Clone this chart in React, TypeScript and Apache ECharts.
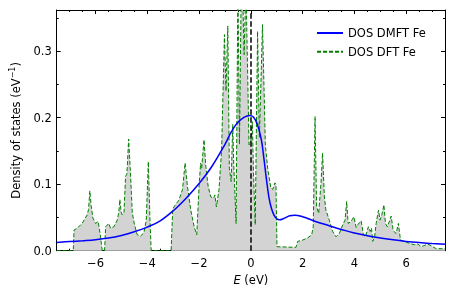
import React, { useEffect, useRef } from 'react';
import * as echarts from 'echarts';

// DMFT density of states (energy in eV, DOS in 1/eV)
const dmftCurve: number[][] = [
  [-7.5, 0.0125], [-7.0, 0.0138], [-6.5, 0.015], [-6.0, 0.0165], [-5.5, 0.019],
  [-5.0, 0.023], [-4.5, 0.0285], [-4.0, 0.0355], [-3.5, 0.045], [-3.0, 0.06],
  [-2.5, 0.079], [-2.0, 0.101], [-1.5, 0.127], [-1.0, 0.16], [-0.75, 0.179],
  [-0.5, 0.193], [-0.25, 0.201], [-0.05, 0.2035], [0.1, 0.201], [0.25, 0.19],
  [0.4, 0.168], [0.5, 0.14], [0.6, 0.108], [0.7, 0.08], [0.8, 0.063],
  [0.9, 0.053], [1.0, 0.048], [1.1, 0.0465], [1.25, 0.048], [1.5, 0.0525],
  [1.7, 0.0535], [2.0, 0.051], [2.5, 0.044], [3.0, 0.038], [3.5, 0.032],
  [4.0, 0.0265], [4.5, 0.0225], [5.0, 0.0192], [5.5, 0.0163], [6.0, 0.014],
  [6.5, 0.0122], [7.0, 0.0108], [7.5, 0.0096],
];

// DFT density of states
const dftCurve: number[][] = [
  [-7.5, 0], [-6.86, 0], [-6.83, 0.031], [-6.7, 0.034], [-6.52, 0.041], [-6.32, 0.054],
  [-6.27, 0.062], [-6.22, 0.09], [-6.17, 0.068], [-6.1, 0.049], [-6.0, 0.041], [-5.9, 0.044],
  [-5.82, 0.025], [-5.74, 0], [-5.65, 0], [-5.61, 0.036], [-5.49, 0.041], [-5.42, 0.034],
  [-5.29, 0.036], [-5.16, 0.046], [-5.1, 0.058], [-5.06, 0.077], [-5.01, 0.058], [-4.97, 0.054],
  [-4.9, 0.058], [-4.84, 0.112], [-4.79, 0.115], [-4.75, 0.145], [-4.72, 0.168], [-4.69, 0.145],
  [-4.66, 0.125], [-4.58, 0.057], [-4.5, 0.04], [-4.39, 0.024], [-4.26, 0.022], [-4.13, 0.027],
  [-4.04, 0.046], [-3.96, 0.134], [-3.9, 0.05], [-3.85, 0], [-3.08, 0], [-3.02, 0.061],
  [-2.97, 0.066], [-2.78, 0.076], [-2.64, 0.092], [-2.54, 0.132], [-2.45, 0.097], [-2.32, 0.061],
  [-2.19, 0.036], [-2.09, 0.024], [-2.0, 0.097], [-1.94, 0.132], [-1.9, 0.124], [-1.81, 0.167],
  [-1.74, 0.127], [-1.65, 0.097], [-1.55, 0.081], [-1.44, 0.079], [-1.39, 0.084], [-1.33, 0.066],
  [-1.23, 0.092], [-1.13, 0.152], [-1.02, 0.325], [-0.96, 0.24], [-0.89, 0.338], [-0.83, 0.124],
  [-0.76, 0.104], [-0.7, 0.19], [-0.66, 0.129], [-0.57, 0.041], [-0.5, 0.4], [-0.44, 0.16],
  [-0.37, 0.4], [-0.3, 0.36], [-0.26, 0.295], [-0.19, 0.4], [-0.12, 0.26], [-0.07, 0.159],
  [0.0, 0.165], [0.06, 0.194], [0.1, 0.12], [0.17, 0.039], [0.26, 0.33], [0.33, 0.17],
  [0.45, 0.34], [0.52, 0.227], [0.56, 0.159], [0.65, 0.124], [0.77, 0.095], [0.84, 0.092],
  [0.93, 0.102], [0.97, 0.1], [1.01, 0.006], [1.74, 0.005], [1.81, 0.014], [2.0, 0.016],
  [2.19, 0.019], [2.35, 0.024], [2.41, 0.036], [2.48, 0.202], [2.54, 0.066], [2.62, 0.056],
  [2.71, 0.102], [2.77, 0.147], [2.84, 0.081], [2.9, 0.061], [3.03, 0.046], [3.16, 0.029],
  [3.29, 0.021], [3.42, 0.026], [3.55, 0.039], [3.64, 0.046], [3.7, 0.074], [3.76, 0.041],
  [3.87, 0.044], [3.98, 0.051], [4.07, 0.035], [4.15, 0.04], [4.26, 0.045], [4.35, 0.024],
  [4.43, 0.021], [4.54, 0.036], [4.61, 0.029], [4.66, 0.034], [4.71, 0.014], [4.78, 0.021],
  [4.84, 0.041], [4.93, 0.061], [4.99, 0.046], [5.06, 0.054], [5.14, 0.069], [5.2, 0.041],
  [5.27, 0.036], [5.36, 0.045], [5.42, 0.052], [5.5, 0.03], [5.61, 0.026], [5.7, 0.041],
  [5.78, 0.016], [5.93, 0.014], [6.13, 0.011], [6.32, 0.009], [6.45, 0.01], [6.58, 0.006],
  [6.84, 0.01], [7.03, 0.006], [7.16, 0.003], [7.5, 0.003],
];

const xMajorTicks = [-6, -4, -2, 0, 2, 4, 6];
const xMinorTicks = [-7.5, -7, -6.5, -5.5, -5, -4.5, -3.5, -3, -2.5, -1.5, -1, -0.5, 0.5, 1, 1.5, 2.5, 3, 3.5, 4.5, 5, 5.5, 6.5, 7, 7.5];
const yMajorTicks = [0, 0.1, 0.2, 0.3];
const yMinorTicks = [0.05, 0.15, 0.25, 0.35];
const seriesNames = ['DOS DMFT Fe', 'DOS DFT Fe'];
const xTitle = '{i|E} (eV)';
const yTitle = 'Density of states (eV{sup|\u22121})';

const FONT = 'DejaVu Sans';
const FS = 11.5;
const X_MIN = -7.5;
const X_MAX = 7.5;
const Y_MIN = 0;
const Y_MAX = 0.362;

const fmtX = (v: number) => (v < 0 ? '\u2212' + Math.abs(v) : String(v));

export default function App() {
  const ref = useRef<HTMLDivElement>(null);

  useEffect(() => {
    if (!ref.current) return;
    const chart = echarts.init(ref.current, null, { renderer: 'svg' });
    const line = { show: true, onZero: false, lineStyle: { color: '#000', width: 1 } };
    const noLine = { show: false, onZero: false };
    const tick = (vals: number[], len: number) => ({
      show: true,
      inside: true,
      length: len,
      customValues: vals,
      lineStyle: { color: '#000', width: 1 },
    });
    const baseX = { type: 'value', min: X_MIN, max: X_MAX, splitLine: { show: false } };
    const baseY = { type: 'value', min: Y_MIN, max: Y_MAX, splitLine: { show: false } };

    chart.setOption({
      animation: false,
      grid: { left: 56.7, right: 11, top: 10, bottom: 46.3, containLabel: false, outerBoundsMode: 'none' },
      legend: {
        orient: 'vertical',
        left: 311,
        top: 22,
        itemWidth: 26,
        itemHeight: 12,
        itemGap: 6.7,
        data: seriesNames,
        itemStyle: { opacity: 0 },
        textStyle: { color: '#000', fontFamily: FONT, fontSize: FS, lineHeight: 12 },
      },
      xAxis: [
        {
          ...baseX,
          position: 'bottom',
          axisLine: line,
          axisTick: tick(xMajorTicks, 4),
          axisLabel: { show: true, customValues: xMajorTicks, formatter: fmtX, color: '#000', fontFamily: FONT, fontSize: FS, margin: 6 },
          name: xTitle,
          nameLocation: 'middle',
          nameGap: 21,
          nameTextStyle: {
            color: '#000', fontFamily: FONT, fontSize: FS,
            rich: { i: { fontStyle: 'italic', fontFamily: FONT, fontSize: FS, color: '#000' } },
          },
        },
        { ...baseX, position: 'top', axisLine: line, axisTick: tick(xMajorTicks, 4), axisLabel: { show: false } },
        { ...baseX, position: 'bottom', axisLine: noLine, axisTick: tick(xMinorTicks, 2), axisLabel: { show: false } },
        { ...baseX, position: 'top', axisLine: noLine, axisTick: tick(xMinorTicks, 2), axisLabel: { show: false } },
      ],
      yAxis: [
        {
          ...baseY,
          position: 'left',
          axisLine: line,
          axisTick: tick(yMajorTicks, 4),
          axisLabel: { show: true, customValues: yMajorTicks, formatter: (v: number) => v.toFixed(1), color: '#000', fontFamily: FONT, fontSize: FS, margin: 5 },
          name: yTitle,
          nameLocation: 'middle',
          nameGap: 29,
          nameTextStyle: {
            color: '#000', fontFamily: FONT, fontSize: FS, lineHeight: 14,
            rich: { sup: { fontFamily: FONT, fontSize: 8, color: '#000', verticalAlign: 'top', lineHeight: 8 } },
          },
        },
        { ...baseY, position: 'right', axisLine: line, axisTick: tick(yMajorTicks, 4), axisLabel: { show: false } },
        { ...baseY, position: 'left', axisLine: noLine, axisTick: tick(yMinorTicks, 2), axisLabel: { show: false } },
        { ...baseY, position: 'right', axisLine: noLine, axisTick: tick(yMinorTicks, 2), axisLabel: { show: false } },
      ],
      series: [
        {
          name: seriesNames[1],
          type: 'line',
          xAxisIndex: 0,
          yAxisIndex: 0,
          data: dftCurve,
          symbol: 'none',
          showSymbol: false,
          lineStyle: { color: 'green', width: 1, type: [4, 2] },
          itemStyle: { color: 'green' },
          areaStyle: { color: '#d3d3d3', opacity: 1 },
          z: 2,
        },
        {
          name: seriesNames[0],
          type: 'line',
          xAxisIndex: 0,
          yAxisIndex: 0,
          data: dmftCurve,
          smooth: 0.4,
          symbol: 'none',
          showSymbol: false,
          lineStyle: { color: 'blue', width: 1.5 },
          itemStyle: { color: 'blue' },
          z: 3,
          markLine: {
            silent: true,
            symbol: ['none', 'none'],
            label: { show: false },
            lineStyle: { color: '#000', type: [5.5, 2.5], width: 1.5 },
            data: [{ xAxis: 0 }],
          },
        },
      ],
    });
    return () => chart.dispose();
  }, []);

  return <div ref={ref} style={{ position: 'fixed', left: 0, top: 0, width: 456, height: 297 }} />;
}
